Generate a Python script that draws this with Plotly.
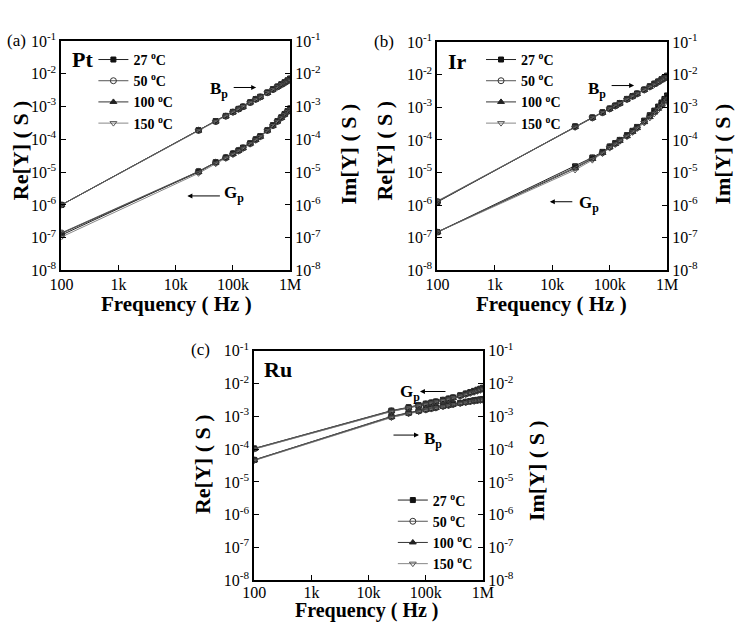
import plotly.graph_objects as go

W, H = 743, 629

FREQ = [100, 25000, 50000, 75000, 100000, 125000, 150000, 200000, 250000, 300000,
        400000, 500000, 600000, 700000, 800000, 900000, 1000000]
TEMPS = ["27", "50", "100", "150"]

# ---- Pt ----
PT_BP_27 = [1.0e-6, 1.9e-4, 3.6e-4, 5.2e-4, 6.9e-4, 8.5e-4, 1.0e-3, 1.35e-3, 1.7e-3, 2.0e-3, 2.7e-3, 3.4e-3, 4.1e-3, 4.8e-3, 5.5e-3, 6.3e-3, 7.2e-3]
PT_BP_50 = [1.0e-6, 1.9e-4, 3.5e-4, 5.1e-4, 6.8e-4, 8.4e-4, 9.9e-4, 1.33e-3, 1.67e-3, 1.97e-3, 2.65e-3, 3.3e-3, 4.0e-3, 4.7e-3, 5.4e-3, 6.1e-3, 6.9e-3]
PT_BP_100 = [1.0e-6, 1.85e-4, 3.5e-4, 5.1e-4, 6.7e-4, 8.3e-4, 9.8e-4, 1.32e-3, 1.65e-3, 1.95e-3, 2.6e-3, 3.3e-3, 3.95e-3, 4.6e-3, 5.3e-3, 6.0e-3, 6.7e-3]
PT_BP_150 = [1.0e-6, 1.8e-4, 3.4e-4, 5.0e-4, 6.6e-4, 8.2e-4, 9.7e-4, 1.3e-3, 1.6e-3, 1.9e-3, 2.6e-3, 3.2e-3, 3.9e-3, 4.5e-3, 5.1e-3, 5.8e-3, 6.5e-3]
PT_GP_27 = [1.2e-7, 1.05e-5, 2.0e-5, 2.8e-5, 3.7e-5, 4.6e-5, 5.6e-5, 7.6e-5, 1.0e-4, 1.25e-4, 1.9e-4, 2.7e-4, 3.6e-4, 4.7e-4, 5.9e-4, 7.3e-4, 8.8e-4]
PT_GP_50 = [1.4e-7, 1.05e-5, 2.0e-5, 2.8e-5, 3.7e-5, 4.6e-5, 5.5e-5, 7.5e-5, 9.9e-5, 1.23e-4, 1.88e-4, 2.65e-4, 3.55e-4, 4.6e-4, 5.8e-4, 7.1e-4, 8.6e-4]
PT_GP_100 = [1.35e-7, 1.0e-5, 1.95e-5, 2.75e-5, 3.6e-5, 4.5e-5, 5.4e-5, 7.4e-5, 9.7e-5, 1.2e-4, 1.85e-4, 2.6e-4, 3.5e-4, 4.5e-4, 5.7e-4, 7.0e-4, 8.4e-4]
PT_GP_150 = [1.05e-7, 9.2e-6, 1.8e-5, 2.6e-5, 3.4e-5, 4.3e-5, 5.2e-5, 7.1e-5, 9.3e-5, 1.17e-4, 1.8e-4, 2.55e-4, 3.4e-4, 4.4e-4, 5.5e-4, 6.8e-4, 8.0e-4]

# ---- Ir ----
IR_BP_27 = [1.25e-6, 2.6e-4, 4.9e-4, 7.0e-4, 9.2e-4, 1.13e-3, 1.35e-3, 1.8e-3, 2.2e-3, 2.65e-3, 3.5e-3, 4.4e-3, 5.3e-3, 6.2e-3, 7.2e-3, 8.2e-3, 9.3e-3]
IR_BP_50 = [1.3e-6, 2.55e-4, 4.8e-4, 6.9e-4, 9.0e-4, 1.11e-3, 1.32e-3, 1.76e-3, 2.17e-3, 2.6e-3, 3.45e-3, 4.3e-3, 5.2e-3, 6.0e-3, 7.0e-3, 7.9e-3, 8.9e-3]
IR_BP_100 = [1.3e-6, 2.5e-4, 4.7e-4, 6.8e-4, 8.9e-4, 1.09e-3, 1.3e-3, 1.73e-3, 2.14e-3, 2.55e-3, 3.4e-3, 4.2e-3, 5.0e-3, 5.9e-3, 6.8e-3, 7.6e-3, 8.5e-3]
IR_BP_150 = [1.35e-6, 2.4e-4, 4.6e-4, 6.6e-4, 8.7e-4, 1.07e-3, 1.27e-3, 1.7e-3, 2.1e-3, 2.5e-3, 3.3e-3, 4.1e-3, 4.9e-3, 5.7e-3, 6.5e-3, 7.3e-3, 8.1e-3]
IR_GP_27 = [1.5e-7, 1.55e-5, 2.9e-5, 4.3e-5, 6.3e-5, 8.0e-5, 1.0e-4, 1.4e-4, 1.9e-4, 2.5e-4, 3.9e-4, 5.7e-4, 7.9e-4, 1.05e-3, 1.4e-3, 1.8e-3, 2.3e-3]
IR_GP_50 = [1.5e-7, 1.45e-5, 2.75e-5, 4.1e-5, 6.1e-5, 7.8e-5, 9.7e-5, 1.35e-4, 1.83e-4, 2.4e-4, 3.7e-4, 5.4e-4, 7.4e-4, 9.8e-4, 1.3e-3, 1.65e-3, 2.1e-3]
IR_GP_100 = [1.5e-7, 1.35e-5, 2.6e-5, 4.0e-5, 5.9e-5, 7.5e-5, 9.4e-5, 1.3e-4, 1.77e-4, 2.3e-4, 3.5e-4, 5.0e-4, 6.9e-4, 9.0e-4, 1.18e-3, 1.5e-3, 1.85e-3]
IR_GP_150 = [1.5e-7, 1.2e-5, 2.4e-5, 3.8e-5, 5.6e-5, 7.2e-5, 9.0e-5, 1.25e-4, 1.7e-4, 2.2e-4, 3.3e-4, 4.7e-4, 6.3e-4, 8.2e-4, 1.05e-3, 1.3e-3, 1.6e-3]

# ---- Ru ----
RU_GP_27 = [1.05e-4, 1.5e-3, 1.9e-3, 2.2e-3, 2.45e-3, 2.65e-3, 2.85e-3, 3.2e-3, 3.5e-3, 3.8e-3, 4.4e-3, 5.0e-3, 5.5e-3, 6.0e-3, 6.5e-3, 7.0e-3, 7.5e-3]
RU_GP_50 = [1.05e-4, 1.47e-3, 1.87e-3, 2.17e-3, 2.4e-3, 2.6e-3, 2.8e-3, 3.13e-3, 3.43e-3, 3.72e-3, 4.3e-3, 4.85e-3, 5.35e-3, 5.8e-3, 6.3e-3, 6.75e-3, 7.2e-3]
RU_GP_100 = [1.02e-4, 1.43e-3, 1.83e-3, 2.13e-3, 2.35e-3, 2.55e-3, 2.75e-3, 3.07e-3, 3.37e-3, 3.65e-3, 4.2e-3, 4.7e-3, 5.2e-3, 5.6e-3, 6.05e-3, 6.45e-3, 6.9e-3]
RU_GP_150 = [1.0e-4, 1.4e-3, 1.8e-3, 2.1e-3, 2.3e-3, 2.5e-3, 2.7e-3, 3.0e-3, 3.3e-3, 3.6e-3, 4.1e-3, 4.6e-3, 5.0e-3, 5.4e-3, 5.8e-3, 6.2e-3, 6.6e-3]
RU_BP_27 = [4.7e-5, 1.0e-3, 1.3e-3, 1.5e-3, 1.65e-3, 1.78e-3, 1.9e-3, 2.1e-3, 2.25e-3, 2.4e-3, 2.6e-3, 2.8e-3, 2.95e-3, 3.1e-3, 3.2e-3, 3.3e-3, 3.4e-3]
RU_BP_50 = [4.7e-5, 9.8e-4, 1.27e-3, 1.47e-3, 1.62e-3, 1.75e-3, 1.86e-3, 2.06e-3, 2.2e-3, 2.35e-3, 2.55e-3, 2.73e-3, 2.88e-3, 3.0e-3, 3.1e-3, 3.2e-3, 3.3e-3]
RU_BP_100 = [4.6e-5, 9.5e-4, 1.23e-3, 1.43e-3, 1.58e-3, 1.7e-3, 1.82e-3, 2.01e-3, 2.15e-3, 2.3e-3, 2.5e-3, 2.66e-3, 2.8e-3, 2.92e-3, 3.02e-3, 3.12e-3, 3.2e-3]
RU_BP_150 = [4.5e-5, 9.2e-4, 1.2e-3, 1.4e-3, 1.55e-3, 1.67e-3, 1.78e-3, 1.97e-3, 2.1e-3, 2.25e-3, 2.45e-3, 2.6e-3, 2.75e-3, 2.85e-3, 2.95e-3, 3.05e-3, 3.1e-3]

X_TICKVALS = [100, 1000, 10000, 100000, 1000000]
X_TICKTEXT = ["100", "1k", "10k", "100k", "1M"]
Y_TICKVALS = [1e-8, 1e-7, 1e-6, 1e-5, 1e-4, 1e-3, 1e-2, 1e-1]
Y_TICKTEXT = ["10<sup>-8</sup>", "10<sup>-7</sup>", "10<sup>-6</sup>", "10<sup>-5</sup>",
              "10<sup>-4</sup>", "10<sup>-3</sup>", "10<sup>-2</sup>", "10<sup>-1</sup>"]

FONT = "Liberation Serif, Times New Roman, serif"
STYLE = {
    "27": dict(symbol="square", size=5, color="#111111", lc="#222222"),
    "50": dict(symbol="circle-open", size=6, color="#333333", lc="#555555"),
    "100": dict(symbol="triangle-up", size=6, color="#222222", lc="#333333"),
    "150": dict(symbol="triangle-down-open", size=6, color="#555555", lc="#888888"),
}

fig = go.Figure()

def px_x(p):
    return p / W

def px_y(p):
    return 1 - p / H

panels = [
    dict(x="x", y="y", y2="y2", box=(51, 287, 31, 268), standoff=-2,
         gp=[PT_GP_27, PT_GP_50, PT_GP_100, PT_GP_150],
         bp=[PT_BP_27, PT_BP_50, PT_BP_100, PT_BP_150], legend="legend"),
    dict(x="x2", y="y3", y2="y4", box=(439, 676, 32, 268), standoff=-2,
         gp=[IR_GP_27, IR_GP_50, IR_GP_100, IR_GP_150],
         bp=[IR_BP_27, IR_BP_50, IR_BP_100, IR_BP_150], legend="legend2"),
    dict(x="x3", y="y5", y2="y6", box=(250, 486, 351, 588), standoff=-4,
         gp=[RU_GP_27, RU_GP_50, RU_GP_100, RU_GP_150],
         bp=[RU_BP_27, RU_BP_50, RU_BP_100, RU_BP_150], legend="legend3"),
]

order = [0, 2, 3, 1]  # 50 degC circles drawn on top
for p in panels:
    for i in order:
        t = TEMPS[i]
        st = STYLE[t]
        for k, series in enumerate((p["gp"], p["bp"])):
            fig.add_trace(go.Scatter(
                x=FREQ, y=series[i], xaxis=p["x"], yaxis=p["y"],
                mode="lines+markers",
                line=dict(color=st["lc"], width=1),
                marker=dict(symbol=st["symbol"], size=st["size"], color=st["color"],
                            line=dict(color=st["color"], width=1)),
                name=f"<b>{t} <sup>o</sup>C</b>",
                legend=p["legend"], legendrank=i + 1,
                showlegend=(k == 0), hoverinfo="skip",
            ))
    fig.add_trace(go.Scatter(x=[], y=[], xaxis=p["x"], yaxis=p["y2"], showlegend=False))

axis_common = dict(type="log", showline=True, linecolor="black", linewidth=2,
                   ticks="inside", ticklen=5, tickwidth=1.3, tickcolor="black",
                   showgrid=False, zeroline=False,
                   tickfont=dict(family=FONT, size=16, color="black"))

layout = dict(width=W, height=H, margin=dict(l=0, r=0, t=0, b=0),
              paper_bgcolor="white", plot_bgcolor="white", showlegend=True)

for idx, p in enumerate(panels):
    x0, x1, y0, y1 = p["box"]
    xn = "xaxis" if p["x"] == "x" else "xaxis" + p["x"][1:]
    yn = "yaxis" if p["y"] == "y" else "yaxis" + p["y"][1:]
    y2n = "yaxis" + p["y2"][1:]
    layout[xn] = dict(axis_common, domain=[px_x(x0), px_x(x1)], anchor=p["y"],
                      range=[2, 6], tickvals=X_TICKVALS, ticktext=X_TICKTEXT,
                      mirror=True, ticklabelstandoff=p["standoff"])
    layout[yn] = dict(axis_common, domain=[px_y(y1), px_y(y0)], anchor=p["x"],
                      range=[-8, -1], tickvals=Y_TICKVALS, ticktext=Y_TICKTEXT)
    layout[y2n] = dict(axis_common, domain=[px_y(y1), px_y(y0)], anchor=p["x"],
                       overlaying=p["y"], side="right",
                       range=[-8, -1], tickvals=Y_TICKVALS, ticktext=Y_TICKTEXT)

leg_common = dict(bgcolor="rgba(0,0,0,0)", borderwidth=0, xanchor="left", yanchor="top",
                  font=dict(family=FONT, size=14, color="black"), tracegroupgap=0,
                  itemwidth=30)
layout["legend"] = dict(leg_common, x=px_x(84), y=px_y(34))
layout["legend2"] = dict(leg_common, x=px_x(484), y=px_y(34))
layout["legend3"] = dict(leg_common, x=px_x(393), y=px_y(489))

fig.update_layout(**layout)

ann = []
def text(xp, yp, s, size=15, bold=False, angle=0, xanchor="center"):
    ann.append(dict(x=px_x(xp), y=px_y(yp), xref="paper", yref="paper",
                    text=(f"<b>{s}</b>" if bold else s), showarrow=False,
                    textangle=angle, xanchor=xanchor, yanchor="middle",
                    font=dict(family=FONT, size=size, color="black")))

def arrow(xs, xe, yp):
    ann.append(dict(x=px_x(xe), y=px_y(yp), xref="paper", yref="paper",
                    ax=xs - xe, ay=0, axref="pixel", ayref="pixel",
                    text="", showarrow=True, arrowhead=2, arrowsize=1, arrowwidth=1,
                    arrowcolor="black"))

text(16, 30, "(a)", 17, xanchor="right")
text(396, 32, "(b)", 17, xanchor="right")
text(206, 350, "(c)", 17, xanchor="right")
text(73, 50, "Pt", 22, True)
text(460, 52, "Ir", 22, True)
text(274, 370, "Ru", 22, True)
for (cx, cy) in [(9, 144), (384, 144), (196, 468)]:
    text(cx, cy, "Re[Y] ( S )", 22, True, angle=-90)
for (cx, cy) in [(347, 148), (733, 148), (542, 475)]:
    text(cx, cy, "Im[Y] ( S )", 22, True, angle=-90)
for (cx, cy) in [(170, 303), (557, 303)]:
    text(cx, cy, "Frequency ( Hz )", 21, True)
text(366, 619, "Frequency ( Hz )", 20, True)
text(214, 82, "B<sub>p</sub>", 17, True)
arrow(228, 252, 79)
text(229, 189, "G<sub>p</sub>", 17, True)
arrow(215, 181, 191)
text(604, 82, "B<sub>p</sub>", 17, True)
arrow(618, 642, 77)
text(595, 199, "G<sub>p</sub>", 17, True)
arrow(579, 555, 197)
text(411, 395, "G<sub>p</sub>", 17, True)
arrow(448, 421, 393)
text(434, 443, "B<sub>p</sub>", 17, True)
arrow(393, 420, 438)

fig.update_layout(annotations=ann)
fig.write_html("out.html")
